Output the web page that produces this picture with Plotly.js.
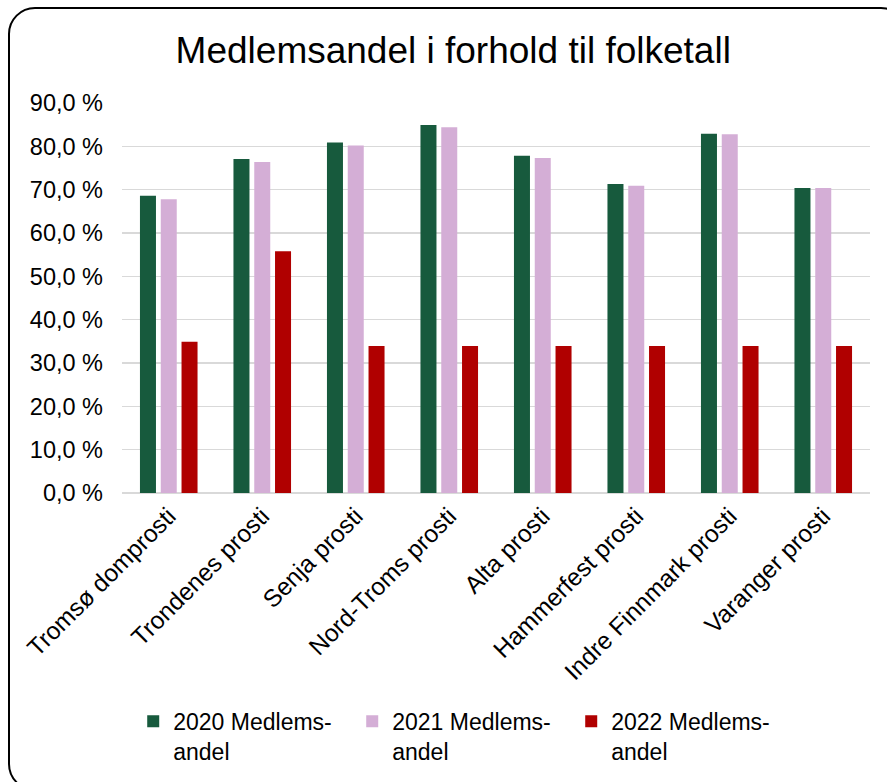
<!DOCTYPE html>
<html>
<head>
<meta charset="utf-8">
<script src="https://cdn.plot.ly/plotly-3.0.1.min.js"></script>
<style>
  html, body { margin: 0; padding: 0; background: #fff; overflow: hidden; }
  #chart { position: absolute; left: 0; top: 0; width: 887px; height: 782px; }
  #frame { position: absolute; left: 8px; top: 7px; width: 896px; height: 780px;
           border: 2px solid #000; border-radius: 27px; pointer-events: none; }
</style>
</head>
<body>
<div id="chart"></div>
<div id="frame"></div>
<script>
const categories = ["Tromsø domprosti", "Trondenes prosti", "Senja prosti", "Nord-Troms prosti",
                    "Alta prosti", "Hammerfest prosti", "Indre Finnmark prosti", "Varanger prosti"];
const seriesNames = ["2020 Medlems-<br>andel", "2021 Medlems-<br>andel", "2022 Medlems-<br>andel"];
const values2020 = [68.6, 77.1, 80.9, 84.9, 77.8, 71.3, 82.9, 70.4];
const values2021 = [67.8, 76.4, 80.2, 84.4, 77.3, 70.9, 82.8, 70.4];
const values2022 = [34.9, 55.8, 33.9, 33.9, 33.9, 33.9, 33.9, 33.9];
const yTicks = [0, 10, 20, 30, 40, 50, 60, 70, 80, 90];
const yTickText = ["0,0 %", "10,0 %", "20,0 %", "30,0 %", "40,0 %", "50,0 %", "60,0 %", "70,0 %", "80,0 %", "90,0 %"];

const colors = ["#175a3d", "#d4aed6", "#b00000"];
const allValues = [values2020, values2021, values2022];

const data = allValues.map((v, i) => ({
  type: "bar",
  x: categories,
  y: v,
  name: seriesNames[i],
  marker: { color: colors[i] },
  hoverinfo: "skip"
}));

const font = "Liberation Sans, Arial, sans-serif";
const fs = 23;

const layout = {
  width: 887, height: 782,
  margin: { l: 122, r: 17, t: 103, b: 289, autoexpand: false },
  paper_bgcolor: "#fff", plot_bgcolor: "#fff",
  font: { family: font, size: fs, color: "#000" },
  title: { text: "Medlemsandel i forhold til folketall", font: { family: font, size: 37, color: "#000" },
           x: 0.511, xanchor: "center", xref: "container", y: 0.936, yanchor: "middle", yref: "container" },
  barmode: "group",
  bargap: 0.333,
  bargroupgap: 0.23,
  xaxis: {
    type: "category",
    automargin: false,
    tickangle: -45,
    showgrid: false, showline: false, zeroline: false, ticks: "",
    ticklabelstandoff: 3,
    tickfont: { family: font, size: 24.5, color: "#000" },
    fixedrange: true
  },
  yaxis: {
    range: [0, 90],
    automargin: false,
    tickmode: "array",
    tickvals: yTicks,
    ticktext: yTickText,
    showgrid: true, gridcolor: "#d9d9d9", gridwidth: 1.5,
    zeroline: true, zerolinecolor: "#d9d9d9", zerolinewidth: 1.5,
    showline: false, ticks: "",
    ticklabelstandoff: 18,
    tickfont: { family: font, size: 23.5, color: "#000" },
    fixedrange: true
  },
  showlegend: true,
  legend: {
    orientation: "h",
    x: 0.015, xanchor: "left",
    y: -0.53, yanchor: "top",
    valign: "top",
    entrywidth: 174,
    font: { family: font, size: fs, color: "#000" },
    bgcolor: "rgba(0,0,0,0)",
    traceorder: "normal",
    itemclick: false, itemdoubleclick: false
  }
};

Plotly.newPlot("chart", data, layout, { displayModeBar: false, staticPlot: true });
</script>
</body>
</html>
